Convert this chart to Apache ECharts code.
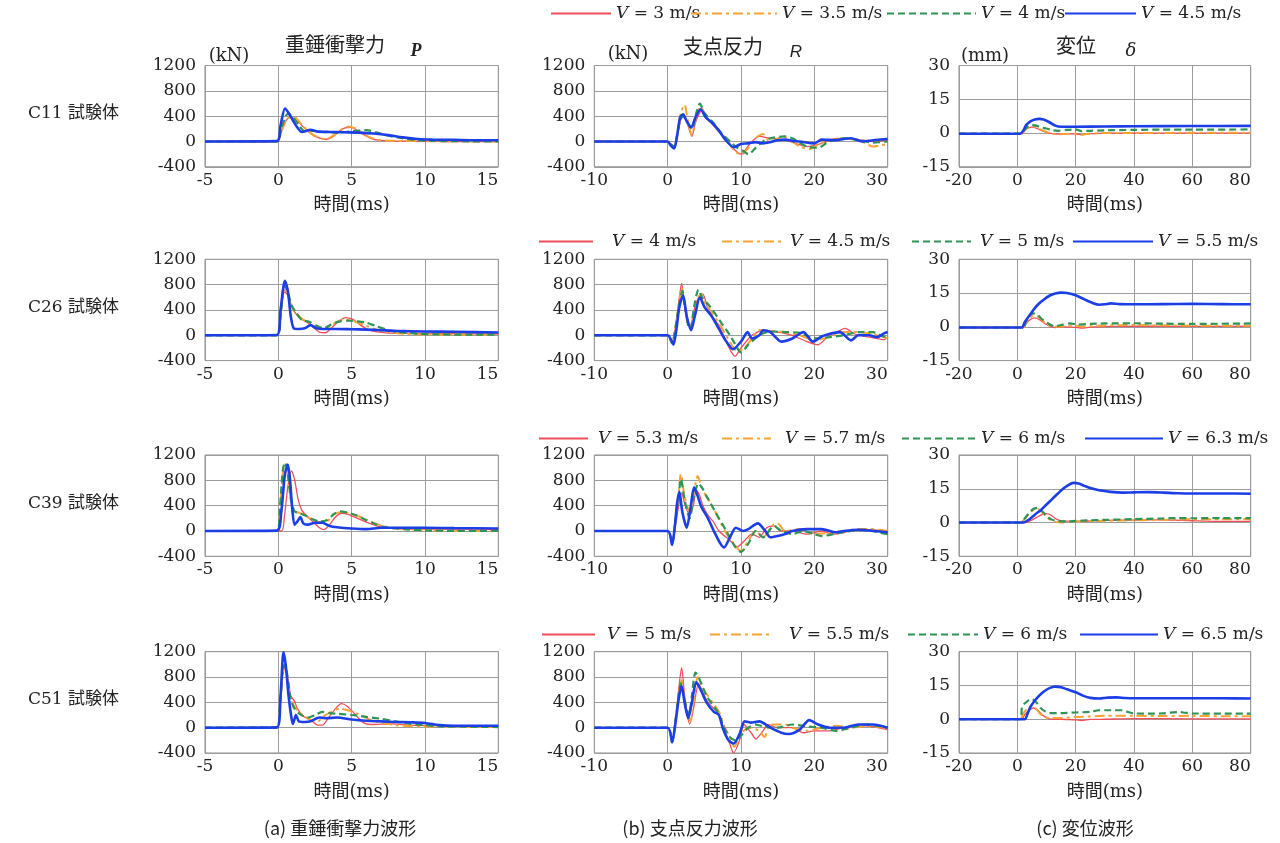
<!DOCTYPE html>
<html><head><meta charset="utf-8">
<script src="https://cdn.jsdelivr.net/npm/echarts@6/dist/echarts.min.js"></script>
<style>html,body{margin:0;padding:0;background:#fff}#c{width:1280px;height:843px}</style>
</head><body><div id="c"></div>
<script>
// ---------- labels / ticks ----------
const SPECIMENS = ['C11', 'C26', 'C39', 'C51'];
const SPEEDS = [['3', '3.5', '4', '4.5'], ['4', '4.5', '5', '5.5'], ['5.3', '5.7', '6', '6.3'], ['5', '5.5', '6', '6.5']];
const COL_TITLES = [['(kN)', '重錘衝撃力', 'P'], ['(kN)', '支点反力', 'R'], ['(mm)', '変位', 'δ']];
const CAPTIONS = ['(a) 重錘衝撃力波形', '(b) 支点反力波形', '(c) 変位波形'];
const X_TICKS = [[-5, 15, 5], [-10, 30, 10], [-20, 80, 20]];
const Y_TICKS = [[-400, 1200, 400], [-400, 1200, 400], [-15, 30, 15]];
const X_NAME = '時間(ms)';

// ---------- (a) impact force P [ms, kN] ----------
const P_C11_red = [[-5,0],[-0.1,0],[0.2,150],[0.5,320],[0.8,380],[1.1,360],[1.5,280],[2,160],[2.5,80],[3,40],[3.3,35],[3.7,70],[4.1,150],[4.5,210],[4.9,225],[5.3,190],[5.8,110],[6.3,50],[6.8,20],[7.5,10],[9,5],[11,0],[15,0]];
const P_C11_orange = [[-5,0],[-0.1,0],[0.2,150],[0.5,320],[0.9,395],[1.2,370],[1.6,270],[2,170],[2.5,90],[3,45],[3.3,40],[3.8,100],[4.3,190],[4.8,235],[5.2,210],[5.7,140],[6.3,60],[7,20],[8,10],[10,5],[15,0]];
const P_C11_green = [[-5,0],[-0.1,0],[0.2,200],[0.5,400],[0.7,440],[1.0,380],[1.4,260],[1.8,160],[2.2,170],[3,150],[4,140],[5,160],[6,180],[6.6,150],[7.5,90],[8.5,50],[9.5,20],[10.5,10],[12,5],[15,0]];
const P_C11_blue = [[-5,0],[-0.1,5],[0.15,250],[0.45,520],[0.7,450],[1,330],[1.3,220],[1.6,150],[2.2,185],[2.6,160],[3.5,150],[4.5,145],[5.5,140],[6.5,125],[7.5,100],[8.5,65],[9.5,40],[10.5,30],[12,25],[13.5,20],[15,20]];

const P_C26_red = [[-5,0],[-0.1,0],[0.15,300],[0.4,680],[0.6,650],[0.9,450],[1.2,340],[1.6,250],[2,200],[2.4,120],[2.8,50],[3.2,40],[3.6,110],[4.1,220],[4.6,280],[5.1,250],[5.6,160],[6.2,80],[7,45],[8,30],[10,30],[12,25],[15,20]];
const P_C26_orange = [[-5,0],[-0.1,0],[0.15,300],[0.4,720],[0.6,680],[0.9,460],[1.2,360],[1.6,260],[2.1,210],[2.6,130],[3.1,100],[3.6,160],[4.2,230],[4.7,250],[5.3,210],[6,150],[6.8,80],[7.8,40],[9,20],[11,10],[15,10]];
const P_C26_green = [[-5,0],[-0.1,0],[0.15,300],[0.4,780],[0.6,720],[0.9,480],[1.2,360],[1.6,240],[2.1,215],[2.6,150],[3.1,110],[3.6,170],[4.2,220],[4.8,230],[5.4,220],[6,200],[6.6,150],[7.4,90],[8.2,50],[9.5,25],[11,15],[13,10],[15,10]];
const P_C26_blue = [[-5,0],[-0.1,5],[0.15,400],[0.45,860],[0.65,700],[0.85,300],[1.05,110],[1.4,100],[1.8,110],[2.2,160],[2.6,110],[3,100],[4,100],[5,95],[6,90],[7,80],[8,70],[10,60],[12,55],[15,45]];

const P_C39_red = [[-5,0],[0.2,0],[0.4,200],[0.65,700],[0.9,950],[1.1,820],[1.35,500],[1.6,330],[2,220],[2.4,140],[2.8,50],[3.1,20],[3.5,100],[3.9,220],[4.3,280],[4.8,260],[5.4,200],[6,140],[6.7,80],[7.5,45],[9,30],[12,30],[15,25]];
const P_C39_orange = [[-5,0],[-0.1,0],[0.1,300],[0.3,900],[0.45,1060],[0.6,950],[0.85,500],[1.1,320],[1.4,290],[1.8,250],[2.3,180],[2.8,140],[3.3,150],[3.8,260],[4.3,300],[4.8,280],[5.4,240],[6,180],[6.6,120],[7.3,70],[8.5,30],[10,10],[12,0],[15,0]];
const P_C39_green = [[-5,0],[-0.1,0],[0.1,350],[0.3,950],[0.45,1080],[0.6,980],[0.85,520],[1.1,310],[1.4,280],[1.8,250],[2.3,190],[2.8,150],[3.3,170],[3.8,270],[4.2,310],[4.7,290],[5.3,250],[6,170],[6.6,110],[7.3,60],[8.5,30],[10,10],[12,0],[15,0]];
const P_C39_blue = [[-5,0],[-0.1,5],[0.2,300],[0.45,900],[0.65,1050],[0.8,800],[0.95,350],[1.1,100],[1.3,150],[1.5,220],[1.7,120],[2,100],[2.5,130],[3,130],[3.5,80],[4,60],[5,40],[6,30],[7,50],[8,50],[10,50],[12,45],[15,40]];

const P_C51_red = [[-5,0],[-0.1,0],[0.1,300],[0.3,900],[0.45,1000],[0.6,850],[0.85,500],[1.1,420],[1.3,300],[1.7,180],[2.2,120],[2.7,40],[3,40],[3.4,150],[3.9,300],[4.3,380],[4.7,340],[5.2,220],[5.8,80],[6.3,50],[7,55],[7.8,60],[9,40],[11,30],[15,20]];
const P_C51_orange = [[-5,0],[-0.1,0],[0.1,300],[0.3,850],[0.45,950],[0.6,820],[0.85,450],[1.1,330],[1.4,250],[1.8,180],[2.3,110],[2.7,100],[3.1,180],[3.6,250],[4.2,300],[4.8,270],[5.4,220],[6.2,130],[7,80],[8,40],[9.5,20],[11,15],[15,10]];
const P_C51_green = [[-5,0],[-0.1,0],[0.1,300],[0.3,900],[0.45,1000],[0.6,850],[0.85,450],[1.1,300],[1.5,210],[2,160],[2.5,200],[3,250],[3.5,230],[4,220],[5,200],[6,170],[7,140],[8,100],[9,60],[10,40],[11,20],[13,15],[15,10]];
const P_C51_blue = [[-5,0],[-0.1,5],[0.15,500],[0.35,1190],[0.5,1000],[0.7,500],[0.9,150],[1.0,60],[1.2,200],[1.4,100],[1.8,90],[2.2,100],[2.8,160],[3.3,150],[4,160],[5,130],[6,110],[7,100],[8,90],[9,85],[10,75],[11,40],[12,30],[15,30]];

// ---------- (b) support reaction R [ms, kN] ----------
const R_C11_red = [[-10,0],[0,0],[0.5,-50],[0.9,-80],[1.3,100],[1.8,350],[2.2,420],[2.7,280],[3.3,80],[3.8,300],[4.6,480],[5.2,380],[6,280],[7,150],[8,20],[9,-120],[10,-200],[10.8,-100],[11.5,0],[12.5,80],[14,50],[16,20],[18,-50],[19,-80],[21,-30],[23,50],[26,30],[28,0],[30,20]];
const R_C11_orange = [[-10,0],[0,0],[0.5,-50],[0.9,-80],[1.3,120],[1.8,450],[2.3,580],[2.8,300],[3.3,100],[3.8,350],[4.5,550],[5.2,400],[6,300],[7,160],[8,40],[9,-130],[10,-210],[11,-100],[11.6,0],[12.3,80],[13,120],[14,-20],[15,50],[16,70],[17,0],[18,-80],[19.3,-120],[20.5,-50],[22,20],[24,50],[26,20],[27,-30],[28,-80],[29,-60],[30,-40]];
const R_C11_green = [[-10,0],[0,0],[0.5,-50],[0.9,-80],[1.3,100],[1.7,330],[2.1,400],[2.7,300],[3.3,200],[3.9,450],[4.4,600],[5,450],[6.2,300],[7.2,150],[8.5,0],[9.5,-100],[10.3,-150],[11,-200],[12,-100],[13,0],[14,50],[16,80],[17,50],[18,-20],[19,-80],[20.5,-100],[22,0],[24,50],[26,30],[28,-20],[30,0]];
const R_C11_blue = [[-10,0],[0,0],[0.4,-60],[0.9,-110],[1.3,100],[1.7,380],[2.1,430],[2.6,320],[3.2,220],[3.8,380],[4.5,510],[5.2,380],[6.2,280],[7,170],[8,10],[9,-90],[10,-40],[11,-30],[12,-10],[13,-30],[14,-10],[15,20],[16,30],[17,10],[18,0],[20,-30],[21,30],[23,20],[24,40],[25,50],[26.5,0],[28,20],[29,30],[30,40]];

const R_C26_red = [[-10,0],[0,0],[0.6,-130],[1.1,150],[1.6,600],[1.9,820],[2.3,500],[2.7,200],[3.1,150],[3.6,400],[4.3,620],[4.8,650],[5.4,450],[6.2,280],[7,150],[8,-100],[8.6,-250],[9.2,-330],[10,-200],[11.5,0],[13,80],[15,50],[17,0],[19,-100],[20.5,-150],[22,0],[23,50],[24.2,110],[25.5,20],[27,-20],[28,-40],[29.5,-70],[30,-20]];
const R_C26_orange = [[-10,0],[0,0],[0.6,-130],[1.1,150],[1.6,550],[1.9,750],[2.3,450],[2.7,200],[3.1,120],[3.6,350],[4.2,600],[4.6,650],[5.2,480],[5.8,400],[7.2,150],[8.2,-50],[9,-200],[9.5,-250],[10.5,-200],[11.5,-50],[12.5,80],[14,70],[16,50],[18,0],[20,-80],[22,-30],[24,50],[26,50],[28,20],[30,-50]];
const R_C26_green = [[-10,0],[0,0],[0.6,-130],[1.1,150],[1.6,500],[2,700],[2.4,450],[2.8,150],[3.1,100],[3.6,450],[4.2,720],[4.7,600],[5.8,450],[7.3,200],[8.5,0],[9,-100],[10,-270],[11,-150],[12.5,0],[14,60],[16,50],[18,40],[20,-50],[22,-30],[24,0],[26,50],[28,50],[29.5,-20],[30,0]];
const R_C26_blue = [[-10,0],[0,0],[0.5,-80],[0.8,-150],[1.2,100],[1.6,450],[2.1,630],[2.6,300],[3.2,80],[3.7,300],[4.4,600],[5,450],[6,300],[7,100],[8,-100],[8.9,-220],[10,-100],[10.9,50],[11.5,-50],[12.5,0],[13,80],[14,50],[15.5,-100],[17,-50],[18.5,50],[19.8,-100],[21,-20],[22,20],[23.5,50],[25,-80],[26,0],[27.5,0],[28.5,-30],[29.5,30],[30,50]];

const R_C39_red = [[-10,0],[0,0],[0.6,-200],[1.1,100],[1.5,400],[1.9,600],[2.4,400],[3,250],[3.5,400],[3.9,650],[4.4,550],[4.8,400],[5.5,250],[6.2,150],[7,0],[8.5,-150],[9.5,-250],[10.5,-150],[11.5,-50],[12.5,-100],[13.5,50],[14.5,80],[15.5,0],[17,0],[19,-50],[21,0],[22.5,-50],[25,0],[27,20],[30,0]];
const R_C39_orange = [[-10,0],[0,0],[0.6,-200],[1.1,200],[1.5,600],[1.8,900],[2.3,550],[3,300],[3.5,550],[4.1,870],[4.6,700],[5,600],[5.8,450],[6.5,300],[7.8,0],[9,-200],[10,-320],[11,-150],[12,0],[13,-100],[14.4,100],[15,120],[16,0],[18,30],[20,-50],[22,-30],[24,0],[26,30],[27.5,30],[30,0]];
const R_C39_green = [[-10,0],[0,0],[0.6,-200],[1.1,200],[1.5,550],[1.8,820],[2.3,500],[3,200],[3.5,500],[4.2,750],[4.7,680],[5.3,550],[6.5,300],[8,0],[9.2,-250],[10,-330],[11,-200],[12,0],[13,-100],[14.5,80],[15.5,0],[17,-50],[18.5,0],[20,-50],[21,-80],[23,-40],[25,0],[27,20],[29,-30],[30,-50]];
const R_C39_blue = [[-10,0],[0,0],[0.6,-220],[1.0,100],[1.3,450],[1.6,620],[2.0,300],[2.6,50],[3.1,350],[3.6,690],[4.1,550],[4.6,380],[5.5,200],[6.3,0],[7.2,-200],[7.7,-260],[8.5,-100],[9.3,50],[10.3,0],[11,30],[12.3,120],[13.3,0],[14,-100],[15,-80],[16,-50],[17,0],[19,30],[21,30],[23,-20],[24,0],[26,20],[28,0],[30,-20]];

const R_C51_red = [[-10,0],[0,0],[0.6,-230],[1.1,150],[1.5,600],[1.9,950],[2.4,400],[3,60],[3.6,350],[4.2,700],[4.8,550],[5.5,400],[6.3,300],[7,200],[7.5,0],[8.3,-200],[9,-400],[9.8,-200],[10.4,50],[11.5,-100],[12,-180],[13,-50],[13.7,50],[15,0],[17,0],[18.5,-80],[20,-50],[22,-50],[24,0],[27,30],[30,-30]];
const R_C51_orange = [[-10,0],[0,0],[0.6,-230],[1.1,150],[1.5,500],[1.9,750],[2.4,400],[3.1,100],[3.6,450],[4.1,800],[4.7,650],[5.5,500],[7,250],[7.8,0],[8.5,-150],[9.1,-300],[10,-100],[11,0],[12.5,-50],[13.2,-150],[14,50],[16,50],[17,0],[19,-50],[21,0],[23,30],[25,0],[27,20],[30,0]];
const R_C51_green = [[-10,0],[0,0],[0.6,-230],[1.1,150],[1.5,500],[1.8,700],[2.3,450],[2.9,200],[3.3,500],[3.8,870],[4.4,750],[5.3,500],[6.8,250],[7.7,0],[8.5,-150],[9.3,-200],[10.2,-100],[11,0],[12,50],[13,20],[15,0],[17,50],[19,20],[21,0],[23,-50],[25,0],[27,50],[30,0]];
const R_C51_blue = [[-10,0],[0,0],[0.6,-230],[1.1,100],[1.5,450],[1.9,660],[2.3,400],[2.8,150],[3.3,400],[3.9,720],[4.5,600],[5.3,400],[6.3,250],[7,200],[7.5,0],[8.3,-200],[9,-250],[9.8,-100],[10.5,100],[11.3,80],[12.5,100],[14,0],[15.5,-80],[16.5,-100],[18,-30],[19.3,120],[20.5,50],[22,0],[24,0],[26,50],[28,50],[30,0]];

// ---------- (c) displacement δ [ms, mm] ----------
const D_C11_red = [[-20,-0.3],[1.5,-0.3],[2.5,1],[3.5,2],[5,2.6],[6.5,2.2],[8,1.3],[10,0.3],[12,-0.3],[14,-0.5],[18,-0.4],[20,-0.4],[22,-0.7],[25,-0.3],[30,0],[40,0],[60,0],[80,0]];
const D_C11_orange = [[-20,-0.3],[1.5,-0.3],[2.5,1.2],[3.5,2.3],[5,3],[6.5,2.6],[8,1.5],[10,0.5],[12,-0.3],[14,-0.5],[18,-0.3],[20,-0.3],[22,-0.8],[25,-0.2],[30,0],[40,0],[60,0.1],[80,0.1]];
const D_C11_green = [[-20,-0.3],[1.5,-0.3],[2.5,1.5],[3.5,2.8],[5,3.5],[6.5,3.3],[8,2.5],[10,2],[12,1.3],[14,1],[17,1.4],[20,1.6],[22,0.8],[25,1],[30,1.2],[40,1.4],[50,1.5],[60,1.5],[80,1.6]];
const D_C11_blue = [[-20,-0.3],[1,-0.3],[2,1],[3,3.5],[4.5,5.2],[6,6],[7.5,6.3],[9,6],[11,4.8],[13,3.3],[15,2.8],[20,2.8],[30,2.9],[40,3],[60,3.1],[80,3.2]];

const D_C26_red = [[-20,-0.3],[2,-0.3],[3,1.5],[4.5,3.3],[6,4],[7.5,3.3],[9,1.8],[11,0.3],[13,-0.3],[16,0],[20,-0.2],[22,-0.6],[25,-0.1],[30,0.1],[40,0.3],[60,0.2],[80,0.2]];
const D_C26_orange = [[-20,-0.3],[2,-0.3],[3,2],[4.5,4.2],[6,5],[7.5,4.2],[9,2.3],[11,0.6],[13,0],[16,0.3],[20,0.6],[22,0],[25,0.3],[30,0.6],[40,0.8],[60,0.5],[80,0.5]];
const D_C26_green = [[-20,-0.3],[2,-0.3],[3,2.5],[4.5,5.2],[5.5,6],[7,5.2],[8.5,3.3],[10,2],[11.5,0.8],[13,0.2],[15,0.8],[18,1.5],[21,1],[25,1.3],[30,1.5],[40,1.6],[50,1.4],[60,1.3],[80,1.5]];
const D_C26_blue = [[-20,-0.3],[1.5,-0.3],[2.5,2],[4,4.8],[5.5,7.5],[7,9.8],[9,12],[11,13.8],[13,14.8],[15,15.2],[17,15],[20,14],[23,12.2],[26,10.5],[28,9.8],[30,10],[32,10.4],[35,10.1],[40,10],[50,10.1],[60,10.2],[70,10.1],[80,10]];

const D_C39_red = [[-20,0],[3,0],[4.5,0.8],[6.5,2.2],[8.5,3.5],[10,4],[11.5,3.3],[13,1.8],[14.5,1],[17,0.6],[20,0.5],[25,0.7],[30,1],[40,1.1],[50,1.2],[60,0.8],[70,0.5],[80,0.5]];
const D_C39_orange = [[-20,0],[1,0],[2.5,1.5],[4,4],[5.5,5.5],[7,6],[8.5,4.5],[10,2.5],[11.5,1],[13,0.3],[15,0],[18,0.3],[20,0.5],[30,0.8],[40,1],[50,1.2],[60,1.5],[70,1.5],[80,1.5]];
const D_C39_green = [[-20,0],[1,0],[2.5,1.8],[4,4.2],[5.5,6],[7,6.5],[8.5,5],[10,3],[11.5,1.5],[13,0.8],[15,0.5],[17,0.5],[20,0.7],[25,1],[30,1.2],[40,1.5],[50,1.8],[55,2],[60,1.9],[70,2],[80,2]];
const D_C39_blue = [[-20,0],[2,0],[4,1.3],[6,3.5],[8,5.5],[10,8],[12,10.5],[14,13],[16,15.3],[18,17],[19.5,17.6],[21,17.3],[23,16.3],[25,15.3],[28,14.3],[32,13.6],[36,13.3],[40,13.4],[45,13.5],[50,13.3],[55,13],[60,12.9],[70,12.9],[80,12.8]];

const D_C51_red = [[-20,0],[1.5,0],[2.5,2],[4,4],[5.5,5],[7,4],[8.5,2],[10,0.7],[11.5,0],[15,0],[18,-0.2],[20,-0.3],[22,-0.6],[25,-0.1],[30,0],[40,0.3],[60,0.2],[80,0.2]];
const D_C51_orange = [[-20,0],[1,0],[2,2.5],[3.5,4.8],[5,6],[6.5,4.5],[8,2.2],[9.5,1],[11,0.5],[14,0.5],[20,1],[25,1.2],[30,1.5],[40,1.5],[50,1.4],[60,1.5],[70,1.3],[80,1.3]];
const D_C51_green = [[-20,0],[1,0],[1.6,5.5],[2.5,7],[4,8.5],[5,9],[6.5,7.5],[8,5],[9.5,3.5],[11,2.7],[15,2.7],[20,3],[25,3.3],[28,4],[32,4],[36,4],[38,3.2],[40,2.6],[45,2.5],[50,2.6],[55,3.2],[57,3],[60,2.6],[70,2.5],[80,2.5]];
const D_C51_blue = [[-20,0],[2.5,0],[3.5,2.5],[4.5,5.5],[6,8.3],[7.5,10.5],[9,12.2],[11,13.8],[13,14.5],[15,14.2],[17,13.3],[20,12],[22.5,10.5],[25,9.5],[28,9.2],[31,9.6],[34,9.7],[37,9.4],[40,9.3],[50,9.3],[60,9.3],[70,9.3],[80,9.2]];

// table built from the arrays: [row][col][speed]
const DATA = [
  [[P_C11_red, P_C11_orange, P_C11_green, P_C11_blue], [R_C11_red, R_C11_orange, R_C11_green, R_C11_blue], [D_C11_red, D_C11_orange, D_C11_green, D_C11_blue]],
  [[P_C26_red, P_C26_orange, P_C26_green, P_C26_blue], [R_C26_red, R_C26_orange, R_C26_green, R_C26_blue], [D_C26_red, D_C26_orange, D_C26_green, D_C26_blue]],
  [[P_C39_red, P_C39_orange, P_C39_green, P_C39_blue], [R_C39_red, R_C39_orange, R_C39_green, R_C39_blue], [D_C39_red, D_C39_orange, D_C39_green, D_C39_blue]],
  [[P_C51_red, P_C51_orange, P_C51_green, P_C51_blue], [R_C51_red, R_C51_orange, R_C51_green, R_C51_blue], [D_C51_red, D_C51_orange, D_C51_green, D_C51_blue]]
];

// ---------- layout & style ----------
const SERIF = "'DejaVu Serif', 'Noto Sans CJK JP', serif";
const COL_LEFT = [205, 594.3, 959];
const COL_W = [293.3, 293.4, 291.7];
const ROW_TOP = [65.5, 259.3, 455, 651.7];
const ROW_H = 101.3;
const LINE_STYLES = [
  { color: '#ef4f5c', width: 1.3, type: 'solid' },
  { color: '#f4a334', width: 2, type: [10, 4, 3, 4] },
  { color: '#2f9455', width: 2.2, type: [7, 4] },
  { color: '#1c3ee6', width: 2.6, type: 'solid' }
];
// legend item placement per row: [lineStart, lineEnd, textStart], and centre y
const LEGEND_Y = [15, 243, 440, 636];
const LEGEND_POS = [
  [[550, 610, 614], [690, 776, 780], [886, 975, 976], [1064, 1135, 1140]],
  [[538, 592, 611], [721, 784, 789], [911, 970, 979], [1072, 1152, 1155]],
  [[538, 587, 597], [721, 770, 784], [901, 975, 979], [1084, 1162, 1162]],
  [[541, 594, 606], [709, 768, 788], [907, 977, 977], [1079, 1157, 1157]]
];

const grids = [], xAxes = [], yAxes = [], series = [], legends = [], graphics = [];
const seriesName = (r, s) => SPECIMENS[r] + '|' + s;
const plain = v => String(v);

for (let r = 0; r < 4; r++) {
  for (let c = 0; c < 3; c++) {
    const gi = r * 3 + c;
    grids.push({ left: COL_LEFT[c], top: ROW_TOP[r], width: COL_W[c], height: ROW_H,
      show: true, borderColor: '#8c8c8c', borderWidth: 1, backgroundColor: 'transparent' });
    const xt = X_TICKS[c], yt = Y_TICKS[c];
    xAxes.push({ type: 'value', gridIndex: gi, min: xt[0], max: xt[1], interval: xt[2],
      axisLine: { show: false }, axisTick: { show: false },
      splitLine: { show: true, lineStyle: { color: '#9c9c9c', width: 1 } },
      axisLabel: { fontFamily: SERIF, fontSize: 17, color: '#222', margin: 5, alignMaxLabel: 'right', formatter: plain },
      name: X_NAME, nameLocation: 'middle', nameGap: 30,
      nameTextStyle: { fontFamily: SERIF, fontSize: 18, color: '#222' } });
    yAxes.push({ type: 'value', gridIndex: gi, min: yt[0], max: yt[1], interval: yt[2],
      axisLine: { show: false }, axisTick: { show: false },
      splitLine: { show: true, lineStyle: { color: '#9c9c9c', width: 1 } },
      axisLabel: { fontFamily: SERIF, fontSize: 17, color: '#222', margin: 9, formatter: plain } });
    for (let s = 0; s < 4; s++) {
      series.push({ type: 'line', name: seriesName(r, s), xAxisIndex: gi, yAxisIndex: gi,
        data: DATA[r][c][s], symbol: 'none', smooth: 0.25, z: 2 + s,
        lineStyle: Object.assign({}, LINE_STYLES[s]), itemStyle: { color: LINE_STYLES[s].color },
        emphasis: { disabled: true }, animation: false });
    }
  }
  // legends (one component per item so each can be placed like the reference)
  for (let s = 0; s < 4; s++) {
    const [ls, le, ts] = LEGEND_POS[r][s];
    const gap = Math.max(0, ts - le - 5);
    legends.push({ data: [seriesName(r, s)], left: ls, top: LEGEND_Y[r] - 10, padding: 0,
      itemWidth: le - ls, itemHeight: 12, selectedMode: false,
      itemStyle: { color: 'transparent', borderColor: 'transparent', borderWidth: 0, opacity: 0 },
      formatter: name => { const p = name.split('|'); const ri = SPECIMENS.indexOf(p[0]);
        return '{v|V}{t| = ' + SPEEDS[ri][+p[1]] + ' m/s}'; },
      textStyle: { fontFamily: SERIF, fontSize: 17, color: '#222',
        rich: { v: { fontFamily: SERIF, fontSize: 17, fontStyle: 'italic', color: '#222', padding: [0, 0, 0, gap] },
                t: { fontFamily: SERIF, fontSize: 17, color: '#222' } } } });
  }
  // row labels
  graphics.push({ type: 'text', left: 28, top: ROW_TOP[r] + ROW_H / 2 - 11,
    style: { text: SPECIMENS[r] + ' 試験体', font: "17px 'DejaVu Serif', 'Noto Sans CJK JP'", fill: '#222' } });
}

// column titles (row 1 only)
const TITLE_POS = [[[229, 56], [335, 44], [416, 51]], [[628, 54], [723, 46], [796, 52]], [[985, 56], [1076, 45], [1131, 51]]];
const TITLE_SYM_FONT = ["italic bold 18px 'Liberation Serif'", "italic 17px 'Liberation Sans'", "italic 18px 'DejaVu Serif'"];
for (let c = 0; c < 3; c++) {
  const [u, t, sym] = COL_TITLES[c];
  const pos = TITLE_POS[c];
  graphics.push({ type: 'text', x: pos[0][0], y: pos[0][1], style: { text: u, font: "18px 'DejaVu Serif'", fill: '#222', align: 'center', verticalAlign: 'middle' } });
  graphics.push({ type: 'text', x: pos[1][0], y: pos[1][1], style: { text: t, font: "20px 'Noto Sans CJK JP'", fill: '#222', align: 'center', verticalAlign: 'middle' } });
  graphics.push({ type: 'text', x: pos[2][0], y: pos[2][1], style: { text: sym, font: TITLE_SYM_FONT[c], fill: '#222', align: 'center', verticalAlign: 'middle' } });
}
// captions
const CAP_X = [340, 690, 1085];
for (let c = 0; c < 3; c++) {
  graphics.push({ type: 'text', x: CAP_X[c], y: 828, style: { text: CAPTIONS[c], font: "18px 'Noto Sans CJK JP'", fill: '#222', align: 'center', verticalAlign: 'middle' } });
}

const chart = echarts.init(document.getElementById('c'), null, { renderer: 'canvas' });
chart.setOption({
  animation: false,
  backgroundColor: '#fff',
  grid: grids, xAxis: xAxes, yAxis: yAxes, series: series, legend: legends, graphic: graphics
});
</script></body></html>
